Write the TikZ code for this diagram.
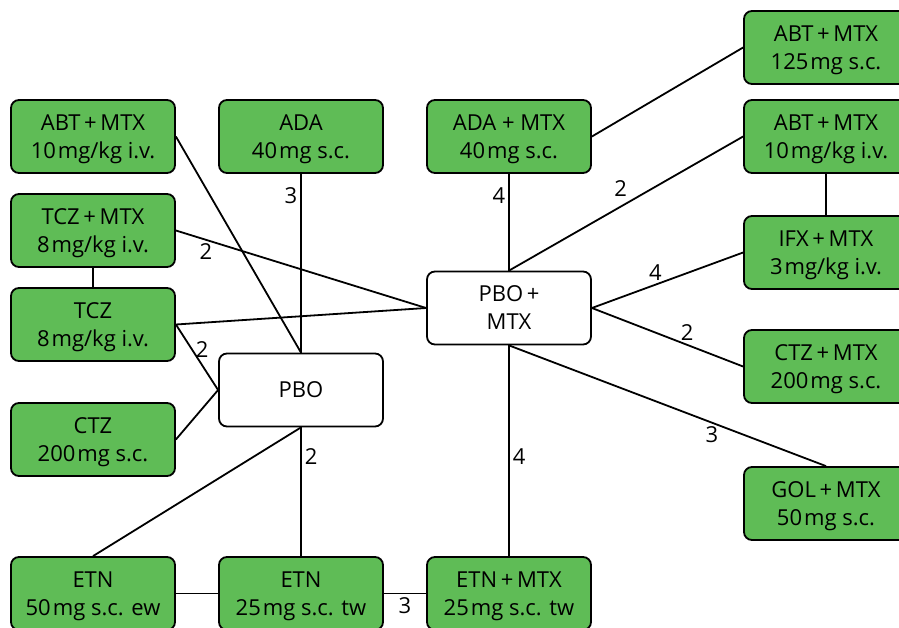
\documentclass[tikz,border=0pt]{standalone}
\usepackage{fontspec}
\setmainfont{Open Sans}
\definecolor{ctrt}{HTML}{5FBC56}
\begin{document}
\begin{tikzpicture}[
    x=1pt, y=-1pt,
    trt/.style={draw=black, fill=ctrt, rounded corners=8pt, align=center, line width=1.8pt,
                minimum width=164pt, minimum height=73pt, inner sep=0pt, text depth=0pt,
                font=\fontsize{22}{28}\selectfont},
    ctl/.style={trt, fill=white},
    lnk/.style={line width=1.8pt, draw=black},
    num/.style={font=\fontsize{22}{24}\selectfont, inner sep=3pt}
]
\useasboundingbox (0,0) rectangle (899,627);
\node[trt] (abtl) at (93,136.5) {ABT\,+\,MTX\\10\kern2pt mg/kg i.v.};
\node[trt] (ada) at (301,136.5) {ADA\\40\kern2pt mg s.c.};
\node[trt] (adamtx) at (509,136.5) {ADA + MTX\\40\kern2pt mg s.c.};
\node[trt] (abtsc) at (826,47.5) {ABT\,+\,MTX\\125\kern2pt mg s.c.};
\node[trt] (abtr) at (826,136.5) {ABT\,+\,MTX\\10\kern2pt mg/kg i.v.};
\node[trt] (tczmtx) at (93,230.5) {TCZ\,+\,MTX\\8\kern2pt mg/kg i.v.};
\node[trt] (tcz) at (93,324.5) {TCZ\\8\kern2pt mg/kg i.v.};
\node[trt] (ifx) at (826,252.5) {IFX\,+\,MTX\\3\kern2pt mg/kg i.v.};
\node[ctl] (pbomtx) at (509,308) {PBO\,+\\MTX};
\node[ctl] (pbo) at (301,390) {PBO};
\node[trt] (ctzmtx) at (826,366.5) {CTZ\,+\,MTX\\200\kern2pt mg s.c.};
\node[trt] (ctz) at (93,439.5) {CTZ\\200\kern2pt mg s.c.};
\node[trt] (gol) at (826,503.5) {GOL\,+\,MTX\\50\kern2pt mg s.c.};
\node[trt] (etnew) at (93,593.5) {ETN\\50\kern2pt mg s.c. ew};
\node[trt] (etntw) at (301,593.5) {ETN\\25\kern2pt mg s.c. tw};
\node[trt] (etnmtx) at (509,593.5) {ETN\,+\,MTX\\25\kern2pt mg s.c. tw};
\draw[lnk] (abtl.east) -- (pbo.north);
\draw[lnk] (ada.south) -- node[num, pos=0.12, left] {3} (pbo.north);
\draw[lnk] (tczmtx.south) -- (tcz.north);
\draw[lnk] (tczmtx.east) -- node[num, pos=0.12, below] {2} (pbomtx.west);
\draw[lnk] (tcz.east) -- (pbomtx.west);
\draw[lnk] (tcz.east) -- node[num, pos=0.38, right] {2} (pbo.west);
\draw[lnk] (ctz.east) -- (pbo.west);
\draw[lnk] (pbo.south) -- (etnew.north);
\draw[lnk] (pbo.south) -- node[num, pos=0.23, right] {2} (etntw.north);
\draw[lnk] (etnew.east) -- (etntw.west);
\draw[lnk] (etntw.east) -- node[num, pos=0.5, below] {3} (etnmtx.west);
\draw[lnk] (adamtx.south) -- node[num, pos=0.22, left] {4} (pbomtx.north);
\draw[lnk] (adamtx.east) -- (abtsc.west);
\draw[lnk] (pbomtx.north) -- node[num, pos=0.52, above left] {2} (abtr.west);
\draw[lnk] (abtr.south) -- (ifx.north);
\draw[lnk] (pbomtx.east) -- node[num, pos=0.42, above] {4} (ifx.west);
\draw[lnk] (pbomtx.east) -- node[num, pos=0.63, above] {2} (ctzmtx.west);
\draw[lnk] (pbomtx.south) -- node[num, pos=0.53, right] {4} (etnmtx.north);
\draw[lnk] (pbomtx.south) -- node[num, pos=0.64, below] {3} (gol.north);
\end{tikzpicture}
\end{document}
